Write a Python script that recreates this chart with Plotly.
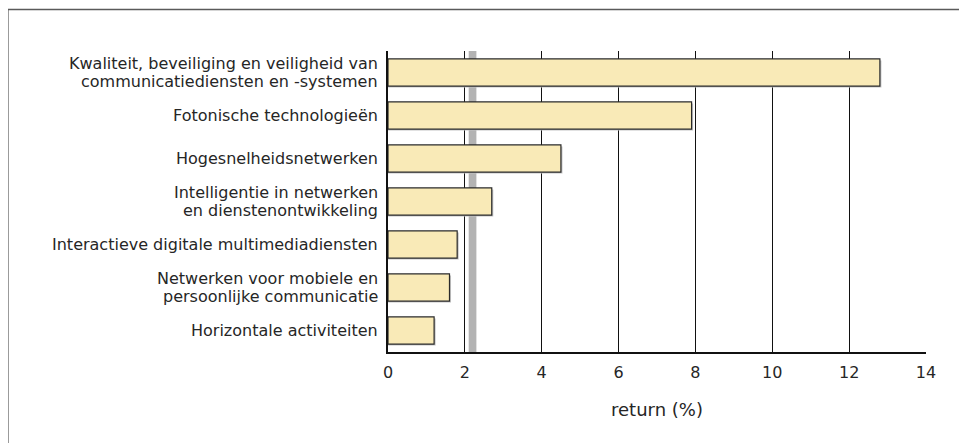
import plotly.graph_objects as go

category_lines = [
    ["Kwaliteit, beveiliging en veiligheid van", "communicatiediensten en -systemen"],
    ["Fotonische technologieën"],
    ["Hogesnelheidsnetwerken"],
    ["Intelligentie in netwerken", "en dienstenontwikkeling"],
    ["Interactieve digitale multimediadiensten"],
    ["Netwerken voor mobiele en", "persoonlijke communicatie"],
    ["Horizontale activiteiten"],
]
categories = [" ".join(lines) for lines in category_lines]
returns = [12.8, 7.9, 4.5, 2.7, 1.8, 1.6, 1.2]
band_range = [2.1, 2.3]
tick_vals = [0, 2, 4, 6, 8, 10, 12, 14]
x_title = "return (%)"

W, H = 967, 443
OFF = 8  # page body margin
L, T = 387.5 - OFF, 51 - OFF
pw, ph = 538.5, 301.5
R, B = W - L - pw, H - T - ph

def px_x(p):
    return (p - OFF - L) / pw

def px_y(p):
    return (T + ph - (p - OFF)) / ph

FONT = "DejaVu Sans, Verdana, sans-serif"
TXT = "#262626"
bar_w = 0.63
line_gap = 18.5

fig = go.Figure()
# soft shadow
fig.add_trace(go.Bar(
    y=categories, x=[v + 0.04 for v in returns], orientation="h",
    width=bar_w, offset=-bar_w / 2 + 0.035,
    marker=dict(color="#c4c4c4", line=dict(width=0)),
    hoverinfo="skip", showlegend=False,
))
fig.add_trace(go.Bar(
    y=categories, x=returns, orientation="h",
    width=bar_w, offset=-bar_w / 2,
    marker=dict(color="#f9eab7", line=dict(color="#2a2a2a", width=1.2)),
    showlegend=False,
))

fig.add_shape(type="rect", xref="x", yref="paper",
              x0=band_range[0], x1=band_range[1], y0=0, y1=1,
              fillcolor="#b3b3b3", line=dict(width=0), layer="between")

# outer frame
fig.add_shape(type="rect", xref="paper", yref="paper",
              x0=px_x(7), x1=px_x(990), y0=px_y(9.5), y1=px_y(470),
              line=dict(color="#5a5a5a", width=1.5), fillcolor="rgba(0,0,0,0)",
              layer="above")

# category labels (tight line spacing, right aligned)
for cat, lines in zip(categories, category_lines):
    n = len(lines)
    for i, txt in enumerate(lines):
        shift = ((n - 1) / 2 - i) * line_gap
        fig.add_annotation(
            x=0, xref="paper", y=cat, yref="y",
            text=txt, showarrow=False, xanchor="right", yanchor="middle",
            xshift=-9, yshift=shift, borderpad=0,
            font=dict(family=FONT, size=16, color=TXT),
        )

fig.update_layout(
    width=W, height=H,
    margin=dict(l=L, r=R, t=T, b=B, autoexpand=False),
    paper_bgcolor="white", plot_bgcolor="white",
    barmode="overlay",
    font=dict(family=FONT, size=16, color=TXT),
    xaxis=dict(
        range=[0, 14], tickvals=tick_vals,
        showgrid=True, gridcolor="#111111", gridwidth=1.2,
        zeroline=False, showline=True, linecolor="#111111", linewidth=1.5,
        ticks="outside", ticklen=5, tickcolor="rgba(0,0,0,0)",
        tickfont=dict(size=16),
        title=dict(text=x_title, standoff=22, font=dict(size=18)),
        fixedrange=True,
    ),
    yaxis=dict(
        categoryorder="array", categoryarray=categories,
        autorange="reversed",
        showgrid=False, zeroline=False,
        showline=True, linecolor="#111111", linewidth=1.5,
        showticklabels=False,
        fixedrange=True,
    ),
)

fig.write_html("out.html")
